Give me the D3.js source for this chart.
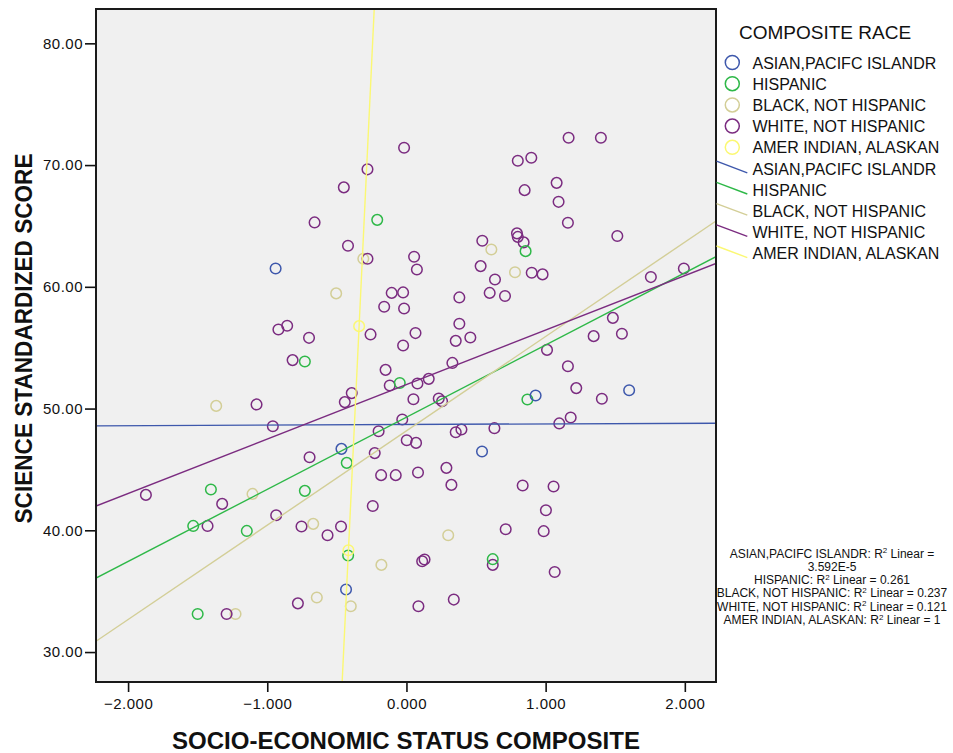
<!DOCTYPE html>
<html>
<head>
<meta charset="utf-8">
<script src="https://cdn.jsdelivr.net/npm/d3@7"></script>
<style>
  body { margin: 0; background: #fff; }
  svg { display: block; }
  text { font-family: "Liberation Sans", Arial, sans-serif; fill: #111; }
</style>
</head>
<body>
<svg id="chart" width="953" height="753"></svg>
<script>
// categories
const groups = ["ASIAN,PACIFC ISLANDR", "HISPANIC", "BLACK, NOT HISPANIC", "WHITE, NOT HISPANIC", "AMER INDIAN, ALASKAN"];
const colors = ["#3e58ac", "#2eb848", "#d3ce97", "#7b2c80", "#fbf873"];

// points [ses, science] per group
const asianPts = [[-0.94, 61.51], [0.928, 51.07], [1.6, 51.5], [0.543, 46.47], [-0.467, 46.69], [-0.434, 35.14]];
const hispanicPts = [[-0.21, 65.5], [0.856, 62.93], [-0.048, 52.1], [0.869, 50.75], [-0.73, 53.87], [-0.429, 45.54],
  [-1.405, 43.35], [-0.73, 43.24], [-1.532, 40.36], [-1.147, 39.95], [-0.419, 37.93], [0.62, 37.63], [-1.5, 33.13]];
const blackPts = [[-0.505, 59.46], [-0.31, 62.3], [0.61, 63.07], [0.78, 61.2], [-1.367, 50.22], [-1.106, 42.99],
  [-0.67, 40.53], [0.3, 39.6], [-0.18, 37.16], [-0.644, 34.48], [-0.4, 33.76], [-1.228, 33.13]];
const whitePts = [[-0.017, 71.42], [-0.28, 69.65], [-0.45, 68.17], [-0.66, 65.29], [-0.42, 63.37], [-0.28, 62.3],
  [0.055, 62.47], [0.075, 61.42], [-0.106, 59.5], [-0.024, 59.54], [-0.16, 58.36], [-0.017, 58.22], [-0.92, 56.5],
  [-0.857, 56.8], [1.165, 72.24], [1.397, 72.24], [0.8, 70.35], [0.897, 70.6], [0.849, 67.94], [1.079, 68.54],
  [1.093, 66.98], [1.16, 65.26], [1.515, 64.17], [0.794, 64.39], [0.8, 64.1], [0.545, 63.78], [0.842, 63.65],
  [0.533, 61.7], [0.636, 60.6], [0.9, 61.15], [0.978, 61.02], [0.38, 59.13], [0.38, 56.97], [0.598, 59.5],
  [0.708, 59.24], [1.756, 60.8], [1.993, 61.51], [1.483, 57.45], [1.548, 56.14], [0.065, 56.2], [-0.024, 55.18],
  [0.354, 55.56], [0.459, 55.84], [1.345, 55.95], [1.01, 54.82], [0.33, 53.75], [1.16, 53.48], [0.16, 52.44],
  [0.079, 52.06], [1.22, 51.68], [1.404, 50.8], [0.05, 50.77], [0.232, 50.83], [0.256, 50.6], [1.18, 49.27],
  [1.098, 48.78], [-0.03, 49.1], [0.354, 48.06], [0.395, 48.28], [0.632, 48.39], [0.002, 47.4], [0.069, 47.18],
  [0.083, 44.75], [0.287, 45.13], [0.323, 43.73], [0.835, 43.68], [1.057, 43.6], [1.002, 41.65], [0.713, 40.09],
  [0.986, 39.93], [0.113, 37.46], [0.13, 37.6], [0.62, 37.16], [1.065, 36.58], [0.086, 33.76], [0.34, 34.31],
  [-0.7, 55.81], [-0.258, 56.09], [-0.818, 53.98], [-0.15, 53.18], [-0.12, 51.9], [-1.077, 50.34], [-0.393, 51.27],
  [-0.443, 50.53], [-0.96, 48.55], [-0.2, 48.14], [-0.228, 46.34], [-0.696, 46.0], [-0.182, 44.53], [-0.077, 44.53],
  [-1.872, 42.91], [-1.324, 42.17], [-0.242, 42.0], [-1.429, 40.36], [-0.936, 41.24], [-0.754, 40.31], [-0.567, 39.6],
  [-0.47, 40.31], [-0.78, 34.0], [-1.292, 33.13]];
const amerPts = [[-0.34, 56.77], [-0.417, 38.36]];

// linear fit lines
const fitIntercept = [48.69, 49.29, 48.17, 51.97, 138.4];
const fitSlope = [0.049, 5.927, 7.75, 4.475, 240];
const rSquared = ["3.592E-5", "0.261", "0.237", "0.121", "1"];

const xTicks = [-2, -1, 0, 1, 2];
const yTicks = [30, 40, 50, 60, 70, 80];
const xDomain = [-2.2305, 2.224];
const yDomain = [27.54, 82.82];

const allPts = [asianPts, hispanicPts, blackPts, whitePts, amerPts];
const drawOrder = [2, 3, 1, 0, 4];

const svg = d3.select("#chart");
const margin = { top: 9, right: 237, bottom: 71, left: 96 };
const width = +svg.attr("width") - margin.left - margin.right;
const height = +svg.attr("height") - margin.top - margin.bottom;
const g = svg.append("g").attr("transform", `translate(${margin.left},${margin.top})`);

const x = d3.scaleLinear().domain(xDomain).range([0, width]);
const y = d3.scaleLinear().domain(yDomain).range([height, 0]);

g.append("rect").attr("width", width).attr("height", height).attr("fill", "#f0f0f0");

svg.append("defs").append("clipPath").attr("id", "plotClip")
  .append("rect").attr("width", width).attr("height", height);

// axes
const xAxis = g.append("g").attr("transform", `translate(0,${height})`)
  .call(d3.axisBottom(x).tickValues(xTicks).tickFormat(d3.format(".3f")).tickSizeOuter(0).tickSize(10).tickPadding(6));
const yAxis = g.append("g")
  .call(d3.axisLeft(y).tickValues(yTicks).tickFormat(d3.format(".2f")).tickSizeOuter(0).tickSize(11).tickPadding(2));
[xAxis, yAxis].forEach(a => {
  a.select(".domain").remove();
  a.selectAll("line").attr("stroke", "#111").attr("stroke-width", 1.6);
  a.selectAll("text").style("font-size", "15px").style("letter-spacing", "0.5px").attr("fill", "#111");
});

// points
const plot = g.append("g").attr("clip-path", "url(#plotClip)");
drawOrder.forEach(i => {
  plot.append("g").selectAll("circle").data(allPts[i]).enter().append("circle")
    .attr("cx", d => x(d[0]))
    .attr("cy", d => y(d[1]))
    .attr("r", 5.3)
    .attr("fill", "none")
    .attr("stroke", colors[i])
    .attr("stroke-width", 1.5);
});

// fit lines
const line = d3.line().x(d => x(d[0])).y(d => y(d[1]));
groups.forEach((name, i) => {
  const ends = xDomain.map(v => [v, fitIntercept[i] + fitSlope[i] * v]);
  plot.append("path").datum(ends)
    .attr("d", line)
    .attr("fill", "none")
    .attr("stroke", colors[i])
    .attr("stroke-width", 1.4);
});

g.append("rect").attr("width", width).attr("height", height)
  .attr("fill", "none").attr("stroke", "#1a1a1a").attr("stroke-width", 2);

// axis titles
svg.append("text")
  .attr("x", 406).attr("y", 749)
  .attr("text-anchor", "middle")
  .attr("textLength", 468).attr("lengthAdjust", "spacingAndGlyphs")
  .style("font-size", "23px").style("font-weight", "bold")
  .text("SOCIO-ECONOMIC STATUS COMPOSITE");

svg.append("text")
  .attr("transform", "translate(32,338.5) rotate(-90)")
  .attr("text-anchor", "middle")
  .attr("textLength", 370).attr("lengthAdjust", "spacingAndGlyphs")
  .style("font-size", "23px").style("font-weight", "bold")
  .text("SCIENCE STANDARDIZED SCORE");

// legend
const legend = svg.append("g");
legend.append("text").attr("x", 739).attr("y", 38.5)
  .style("font-size", "19px").text("COMPOSITE RACE");

const rowY = i => 62.5 + i * 21.2;
groups.forEach((name, i) => {
  legend.append("circle")
    .attr("cx", 732.3).attr("cy", rowY(i)).attr("r", 7)
    .attr("fill", "none").attr("stroke", colors[i]).attr("stroke-width", 1.5);
  legend.append("text").attr("x", 752.5).attr("y", rowY(i) + 6)
    .style("font-size", "16px").text(name);
});
groups.forEach((name, i) => {
  const cy = rowY(i + 5);
  legend.append("line")
    .attr("x1", 716.5).attr("y1", cy - 7.3).attr("x2", 747.3).attr("y2", cy + 4.3)
    .attr("stroke", colors[i]).attr("stroke-width", 1.4);
  legend.append("text").attr("x", 752.5).attr("y", cy + 6)
    .style("font-size", "16px").text(name);
});

// R² annotations
const notes = svg.append("g").attr("text-anchor", "middle").style("font-size", "12px");
let row = 0;
function noteRow(before, after) {
  const t = notes.append("text").attr("x", 832).attr("y", 557.5 + row * 13.3);
  t.append("tspan").text(before);
  if (after !== undefined) {
    t.append("tspan").attr("dy", -4.5).style("font-size", "8px").text("2");
    t.append("tspan").attr("dy", 4.5).text(after);
  }
  row++;
}
groups.forEach((name, i) => {
  if (rSquared[i].includes("E")) {
    noteRow(name + ": R", " Linear =");
    noteRow(rSquared[i]);
  } else {
    noteRow(name + ": R", " Linear = " + rSquared[i]);
  }
});
</script>
</body>
</html>
